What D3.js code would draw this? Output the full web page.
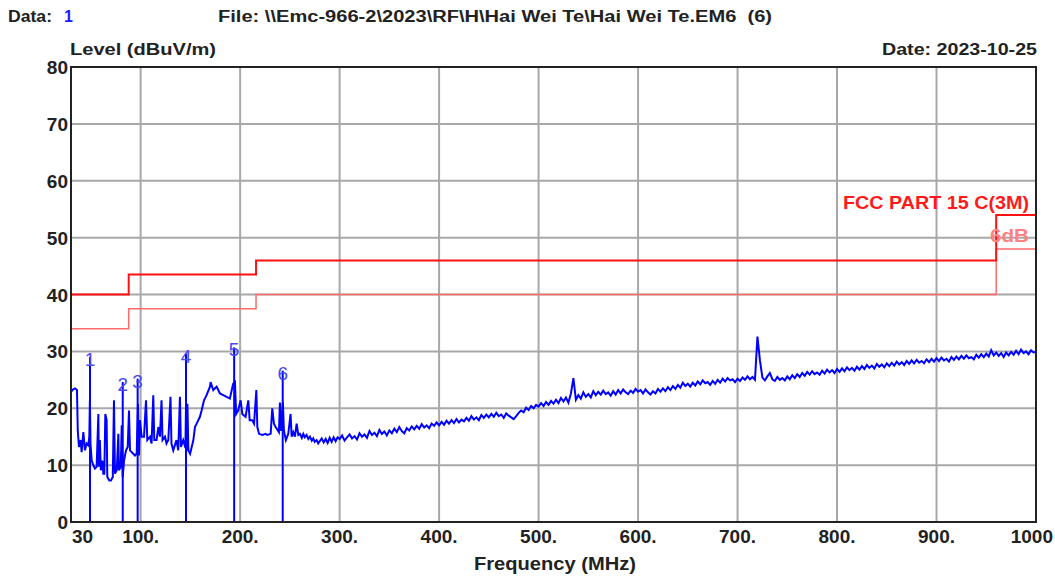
<!DOCTYPE html>
<html>
<head>
<meta charset="utf-8">
<script src="https://cdn.jsdelivr.net/npm/d3@7"></script>
<style>
  body { margin: 0; background: #fff; }
  svg { display: block; font-family: "Liberation Sans", Arial, sans-serif; }
</style>
</head>
<body>
<svg id="chart" width="1055" height="576"></svg>
<script>
// low band sweep, [MHz, dBuV/m]
var lowTrace = [
  [30.2,22.9],[32,23.3],[34,23.5],[36,23.2],[36.8,16.1],[38,13.2],[39.7,14.4],[40.7,12.3],[42.4,15.8],[44,12.6],
  [45.7,13.8],[47.4,13.5],[48.4,15],[49,21.4],[49.6,13.8],[50.8,10.8],[52.4,10],[54,9.4],[55.8,9.7],[57.5,19],
  [58,9.7],[59,14.4],[60,9.1],[61.5,10.8],[62.5,8.5],[63.5,8.5],[64.5,19],[65.8,17.9],[66.5,7.9],[68.5,7.3],
  [70.2,7.3],[72,7.9],[73.2,21.4],[74.2,8.5],[76,9.1],[77.6,15.5],[78.2,9.1],[80,9.7],[81,17],[82,7.9],
  [83.3,10.8],[85.3,12.6],[87,13.2],[88.3,19.6],[89.3,12.6],[92.6,12],[94.3,11.7],[96,12],[97.3,20.8],[98.3,11.7],
  [99.3,17.9],[101,15],[103.4,15],[105.4,21.4],[106.7,14.4],[109.4,15],[111,13.8],[112.7,22.3],[113.7,14.4],[116,14.4],
  [117.8,16.7],[119.4,15],[121,21.4],[122,14.4],[124.5,15],[126,13.8],[127.8,14.4],[130,22],[131,13.8],[132.8,12.6],
  [136,14.4],[137.8,12.6],[139.5,22],[140.5,13.2],[142.8,14.4],[145,13],[145.6,20.5],[146.2,12.5],[147,20.8],[148,12.6],
  [149.7,12],[153,14.4],[154.6,16.7],[156.3,17.3],[159.6,18.5],[161.3,19.6],[163.7,21.4],[166.3,22.3],[169.7,23.8],[170.3,24.6],
  [173,23.2],[176.4,23.8],[179.7,22.6],[183,22.3],[186.4,22],[189.7,21.7],[193,24.3],[194.8,24.6],[196,19],[198,19.6],
  [200.5,21.4],[202.2,19],[205.5,18.5],[208.2,21.4],[209.6,17.9],[212.2,17.9],[214,17.3],[216.3,23.2],[217.3,16.7],[219,15.5],
  [222.3,15.3],[225.6,15.5],[227.3,15.3],[230.7,15.5],[232.3,20],[234,17.3],[235.7,16.7],[239,15.8],[240,21],[241,16],
  [243,21],[244,16.1],[246,14.4],[248.4,15.5],[250.7,19],[251.8,15],[253.4,15.8],[255.1,15],[256.8,17.3],[258.5,15.3],
  [260.1,15.5],[262,14.8],[263.5,15.5],[265,14.9],[266.8,15.3],[268.5,14.6],[270.2,15],[272,14.3],[273.5,14.7],[275,14.1],
  [276.9,14.4],[278.5,13.8],[279.6,14.1],[282,14.7],[284,14.0],[286,14.6],[288,13.9],[290,14.8],[292,14.1],[294,14.9],
  [296,14.2],[298,14.9]
];

// high band sweep: 300 .. 1000 MHz, 2.5 MHz points
var highStart = 300, highStep = 2.5;
var highLevels = [
  14.6,15.2,14.3,14.9,15.4,14.7,15.1,14.5,15.6,15.0,
  15.4,14.8,16.0,15.3,15.7,15.1,16.2,15.5,15.9,15.2,
  16.1,15.6,16.4,15.8,16.7,16.0,15.6,16.5,16.1,16.8,
  16.3,16.9,16.4,17.2,16.6,17.0,16.5,17.3,16.9,17.5,
  17.0,17.6,17.1,17.8,17.3,17.9,17.4,18.1,17.5,18.0,
  17.7,18.3,17.8,18.6,18.0,18.4,17.9,18.8,18.3,18.9,
  18.4,19.0,18.5,19.2,18.6,18.9,18.3,19.1,18.7,18.4,
  18.1,18.6,19.2,19.6,19.3,20.1,19.7,20.4,20.0,20.6,
  20.3,20.9,20.4,21.1,20.6,21.3,20.8,21.5,20.9,21.8,
  21.2,21.9,21.0,22.6,25.3,21.5,22.3,21.7,22.8,22.0,
  22.5,21.9,23.0,22.3,22.9,22.4,23.1,22.5,22.8,22.2,
  23.0,22.4,23.2,22.6,23.3,22.8,22.5,23.1,22.7,23.4,
  22.9,23.2,22.6,23.3,22.8,22.4,23.0,22.6,23.4,22.9,
  23.5,23.0,23.7,23.2,23.9,23.4,24.1,23.6,24.5,23.9,
  24.3,23.8,24.5,24.0,24.7,24.2,24.9,24.4,24.6,24.1,
  24.8,24.3,25.0,24.5,25.2,24.7,25.3,24.9,25.1,24.6,
  25.2,24.8,25.4,25.0,25.6,25.1,25.5,25.0,32.6,28.4,
  25.4,24.9,25.6,26.2,25.1,24.8,25.5,25.0,25.3,24.9,
  25.6,25.1,25.8,25.3,26.0,25.5,26.2,25.7,26.4,25.9,
  26.5,26.0,26.3,25.9,26.6,26.1,26.8,26.3,26.7,26.2,
  26.9,26.4,27.0,26.5,27.2,26.7,27.1,26.6,27.3,26.8,
  27.4,26.9,27.6,27.1,27.5,27.0,27.8,27.3,27.7,27.2,
  27.9,27.4,28.0,27.5,28.2,27.7,28.1,27.6,28.3,27.8,
  28.4,27.9,28.5,28.0,28.3,27.9,28.6,28.1,28.7,28.2,
  28.8,28.3,28.9,28.4,28.7,28.2,29.0,28.5,29.1,28.6,
  29.2,28.7,29.3,28.8,29.0,28.6,29.4,28.9,29.5,29.0,
  29.6,29.1,30.2,29.3,29.8,29.2,29.7,29.0,29.8,29.3,
  29.9,29.4,30.1,29.5,30.3,29.7,30.0,29.5,30.2,29.8,
  29.9
];

// FCC limit steps
var limitFreq = [30, 88, 88, 216, 216, 960, 960, 1000];
var limitLevel = [40, 40, 43.5, 43.5, 46, 46, 54, 54];
var marginLevel = [34, 34, 37.5, 37.5, 40, 40, 48, 48];

// markers
var markerFreq = [49.1, 82.0, 97.0, 145.6, 194.0, 242.8];
var markerLevel = [29.0, 24.6, 25.2, 29.6, 30.7, 26.6];

var xTicks = [30, 100, 200, 300, 400, 500, 600, 700, 800, 900, 1000];
var xTickLabels = ["30", "100.", "200.", "300.", "400.", "500.", "600.", "700.", "800.", "900.", "1000"];
var yTicks = [0, 10, 20, 30, 40, 50, 60, 70, 80];

var trace = lowTrace.concat(highLevels.map(function(v, i) { return [highStart + i * highStep, v]; }));

var svg = d3.select("#chart");
var x = d3.scaleLinear().domain([30, 1000]).range([71, 1036]);
var y = d3.scaleLinear().domain([0, 80]).range([522, 67]);

// grid
svg.append("g").selectAll("line").data(xTicks.slice(1, -1)).enter().append("line")
   .attr("x1", function(d) { return x(d); }).attr("x2", function(d) { return x(d); })
   .attr("y1", y(0)).attr("y2", y(80))
   .attr("stroke", "#a8a8a8").attr("stroke-width", 2);
svg.append("g").selectAll("line").data(yTicks.slice(1, -1)).enter().append("line")
   .attr("y1", function(d) { return y(d); }).attr("y2", function(d) { return y(d); })
   .attr("x1", x(30)).attr("x2", x(1000))
   .attr("stroke", "#a8a8a8").attr("stroke-width", 2);

// limit lines
var line = d3.line().x(function(d) { return x(d[0]); }).y(function(d) { return y(d[1]); });
svg.append("path").attr("d", line(limitFreq.map(function(f, i) { return [f, marginLevel[i]]; })))
   .attr("fill", "none").attr("stroke", "#ff6a6a").attr("stroke-width", 1.5);
svg.append("path").attr("d", line(limitFreq.map(function(f, i) { return [f, limitLevel[i]]; })))
   .attr("fill", "none").attr("stroke", "#ff1010").attr("stroke-width", 2);

// trace
svg.append("path").attr("d", line(trace))
   .attr("fill", "none").attr("stroke", "#0000ff").attr("stroke-width", 2);

// markers
svg.append("g").selectAll("line").data(markerFreq).enter().append("line")
   .attr("x1", function(d) { return x(d); }).attr("x2", function(d) { return x(d); })
   .attr("y1", y(0)).attr("y2", function(d, i) { return y(markerLevel[i]); })
   .attr("stroke", "#0000ff").attr("stroke-width", 2);
svg.append("g").selectAll("text").data(markerFreq).enter().append("text")
   .attr("x", function(d) { return x(d); })
   .attr("y", function(d, i) { return y(markerLevel[i]) + 9; })
   .attr("text-anchor", "middle")
   .attr("font-size", 19).attr("fill", "#4a4af2")
   .text(function(d, i) { return i + 1; });

// frame
svg.append("rect").attr("x", x(30)).attr("y", y(80))
   .attr("width", x(1000) - x(30)).attr("height", y(0) - y(80))
   .attr("fill", "none").attr("stroke", "#222").attr("stroke-width", 2);

// tick labels
svg.append("g").selectAll("text").data(yTicks).enter().append("text")
   .attr("x", 68).attr("y", function(d) { return y(d) + 7; })
   .attr("text-anchor", "end").attr("font-size", 19).attr("font-weight", "bold").attr("fill", "#222")
   .text(function(d) { return d; });
svg.append("g").selectAll("text").data(xTicks).enter().append("text")
   .attr("x", function(d, i) { return i === 0 ? x(d) + 1 : (i === xTicks.length - 1 ? 1053 : x(d)); })
   .attr("y", 543)
   .attr("text-anchor", function(d, i) { return i === 0 ? "start" : (i === xTicks.length - 1 ? "end" : "middle"); })
   .attr("font-size", 19).attr("font-weight", "bold").attr("fill", "#222")
   .text(function(d, i) { return xTickLabels[i]; });

// titles
function label(txt, px, py, size, color, len) {
  var t = svg.append("text").attr("x", px).attr("y", py).style("white-space", "pre")
     .attr("font-size", size).attr("font-weight", "bold").attr("fill", color).text(txt);
  if (len) t.attr("textLength", len).attr("lengthAdjust", "spacingAndGlyphs");
  return t;
}
label("Data:", 8, 22, 16, "#222", 44);
label("1", 64, 22, 16, "#1a1aff");
label("File: \\\\Emc-966-2\\2023\\RF\\H\\Hai Wei Te\\Hai Wei Te.EM6  (6)", 218, 22, 16, "#222", 554);
label("Level (dBuV/m)", 70, 55, 16, "#222", 146);
label("Date: 2023-10-25", 882, 55, 16, "#222", 155);
label("Frequency (MHz)", 474, 570, 18, "#222", 162);
label("FCC PART 15 C(3M)", 843, 209, 18, "#ff1a1a", 186);
label("6dB", 990, 242, 18, "#ff8080", 39);
</script>
</body>
</html>
